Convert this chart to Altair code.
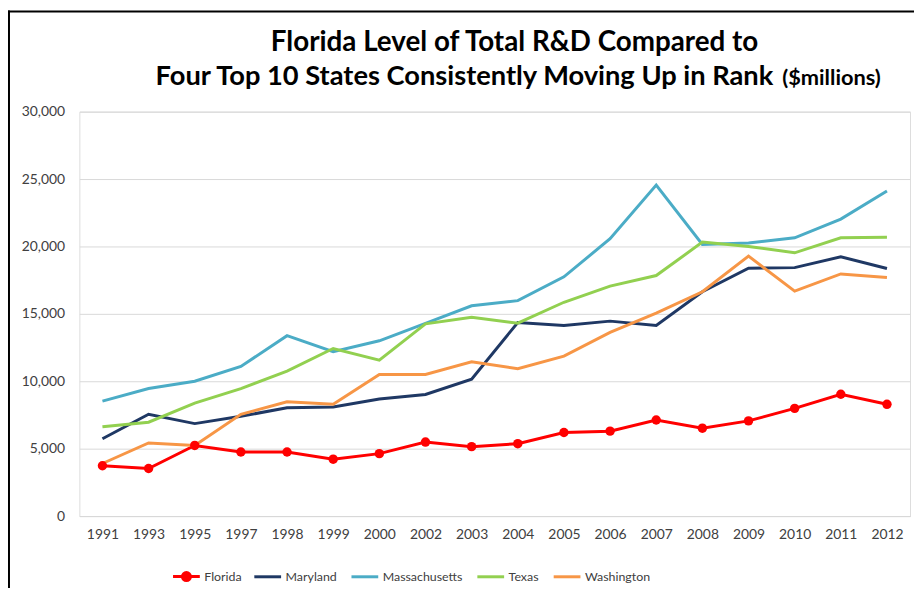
import altair as alt
import pandas as pd

years = ["1991", "1993", "1995", "1997", "1998", "1999", "2000", "2002", "2003",
         "2004", "2005", "2006", "2007", "2008", "2009", "2010", "2011", "2012"]
florida = [3730, 3530, 5240, 4750, 4750, 4220, 4630, 5490, 5150,
           5370, 6200, 6300, 7130, 6520, 7060, 7990, 9040, 8290]
maryland = [5740, 7550, 6860, 7400, 8040, 8090, 8680, 9020, 10150,
            14360, 14140, 14460, 14140, 16640, 18380, 18430, 19240, 18360]
massachusetts = [8530, 9460, 10000, 11100, 13380, 12200, 13000, 14300, 15600,
                 15980, 17750, 20570, 24560, 20150, 20250, 20640, 22030, 24120]
texas = [6620, 6960, 8380, 9460, 10760, 12430, 11570, 14260, 14750,
         14310, 15860, 17060, 17840, 20320, 20000, 19530, 20640, 20690]
washington = [3900, 5420, 5240, 7550, 8480, 8290, 10510, 10510, 11450,
              10930, 11860, 13630, 15050, 16640, 19290, 16690, 17960, 17700]

series_names = ["Florida", "Maryland", "Massachusetts", "Texas", "Washington"]
series_colors = ["#FF0000", "#1F3864", "#4BACC6", "#92D050", "#F79646"]
series_values = [florida, maryland, massachusetts, texas, washington]

title_line1 = "Florida Level of Total R&D Compared to"
title_line2 = "Four Top 10 States Consistently Moving Up in Rank"
title_unit = "($millions)"

rows = []
for name, vals in zip(series_names, series_values):
    for yr, v in zip(years, vals):
        rows.append({"Year": yr, "State": name, "Value": v})
df = pd.DataFrame(rows)

FONT = "Lato"
W, H = 838, 408

florida_path = "M-1,0H1M-0.3,0A0.3,0.3,0,1,1,0.3,0A0.3,0.3,0,1,1,-0.3,0Z"

x_enc = alt.X("Year:O", sort=years, scale=alt.Scale(type="point", padding=0.5),
              axis=alt.Axis(title=None, labelAngle=0, ticks=False, domain=True,
                            domainColor="#D9D9D9", labelFontSize=14, labelFont=FONT,
                            labelColor="#404040", labelPadding=12))
y_enc = alt.Y("Value:Q", scale=alt.Scale(domain=[0, 30000]),
              axis=alt.Axis(title=None, values=[0, 5000, 10000, 15000, 20000, 25000, 30000],
                            format=",.0f", ticks=False, domain=False, gridColor="#D9D9D9",
                            labelFontSize=14, labelFont=FONT, labelColor="#404040",
                            labelPadding=15))
legend_common = dict(title=None, orient="none", direction="horizontal",
                     symbolSize=729, symbolStrokeWidth=3, labelFontSize=12.5,
                     labelFont=FONT, labelColor="#404040", labelOffset=3, columnPadding=8)

color_lines = alt.Color("State:N", sort=series_names,
                        scale=alt.Scale(domain=series_names, range=series_colors),
                        legend=alt.Legend(legendX=175, legendY=454, columns=4,
                                          values=series_names[1:], symbolType="stroke",
                                          **legend_common))
color_pts = alt.Color("State:N",
                      scale=alt.Scale(domain=series_names[:1], range=series_colors[:1]),
                      legend=alt.Legend(legendX=93, legendY=454, columns=1,
                                        symbolType=florida_path,
                                        symbolFillColor="#FF0000",
                                        symbolStrokeColor="#FF0000",
                                        **legend_common))

lines = alt.Chart(df).mark_line(strokeWidth=3).encode(x=x_enc, y=y_enc, color=color_lines)
points = alt.Chart(df).transform_filter(alt.datum.State == "Florida").mark_circle(
    size=90, opacity=1).encode(x=x_enc, y=y_enc, color=color_pts)

title_df = pd.DataFrame({"t1": [title_line1], "t2": [title_line2], "t3": [title_unit]})
t1 = alt.Chart(title_df).mark_text(font=FONT, fontSize=28, fontWeight="bold", color="#000000",
                                   align="center", baseline="alphabetic").encode(
    text="t1:N", x=alt.value(439), y=alt.value(-61))
t2 = alt.Chart(title_df).mark_text(font=FONT, fontSize=27.5, fontWeight="bold", color="#000000",
                                   align="right", baseline="alphabetic").encode(
    text="t2:N", x=alt.value(700), y=alt.value(-27))
t3 = alt.Chart(title_df).mark_text(font=FONT, fontSize=22, fontWeight="bold", color="#000000",
                                   align="left", baseline="alphabetic").encode(
    text="t3:N", x=alt.value(709), y=alt.value(-27))

border_left = alt.Chart(title_df).mark_rule(color="#000000", strokeWidth=2).encode(
    x=alt.value(-71), y=alt.value(-102), y2=alt.value(H + 80))
border_top = alt.Chart(title_df).mark_rule(color="#000000", strokeWidth=2).encode(
    x=alt.value(-72), x2=alt.value(W + 10), y=alt.value(-101))

chart = alt.layer(lines, points, t1, t2, t3, border_left, border_top).resolve_scale(
    color="independent").resolve_legend(color="independent").properties(
    width=W, height=H,
    autosize=alt.AutoSizeParams(type="none"),
    padding={"left": 72, "top": 102, "right": 4, "bottom": 70},
).configure_view(stroke=None).configure(font=FONT)

chart.save("out.html", embed_options={"renderer": "svg", "actions": False})
